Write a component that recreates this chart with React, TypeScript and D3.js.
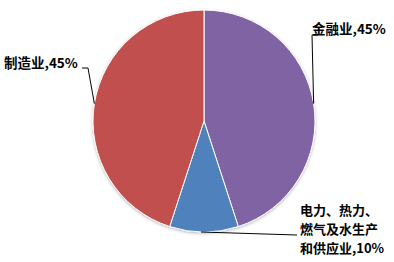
import React from "react";
import * as d3 from "d3";

const categories = ["金融业", "电力、热力、燃气及水生产和供应业", "制造业"];
const shares = [45, 10, 45];
const colors = ["#8064A2", "#4F81BD", "#C0504D"];
const powerLines = ["电力、热力、", "燃气及水生产", "和供应业,"];

const W = 394;
const H = 262;
const cx = 204;
const cy = 121;
const R = 111;

export default function App() {
  const pie = d3.pie<number>().sort(null).value((d) => d)(shares);
  const arc = d3.arc<d3.PieArcDatum<number>>().innerRadius(0).outerRadius(R);
  const fontFamily = "'Noto Sans CJK SC', 'Noto Sans', sans-serif";

  // point on the rim at the middle of a slice
  const mid = (p: d3.PieArcDatum<number>) => {
    const a = (p.startAngle + p.endAngle) / 2;
    return [cx + R * Math.sin(a), cy - R * Math.cos(a)];
  };
  const finP = mid(pie[0]);
  const powP = mid(pie[1]);
  const manP = mid(pie[2]);

  return (
    <svg width={W} height={H} style={{ position: "absolute", left: 0, top: 0 }}>
      <defs>
        <filter id="sh" x="-10%" y="-10%" width="120%" height="120%">
          <feDropShadow dx="0" dy="1" stdDeviation="1.5" floodColor="#000" floodOpacity="0.3" />
        </filter>
      </defs>
      <g transform={`translate(${cx},${cy})`} filter="url(#sh)">
        {pie.map((p, i) => (
          <path key={categories[i]} d={arc(p) || ""} fill={colors[i]} stroke="#fff" strokeWidth={1} />
        ))}
      </g>
      {/* leader lines */}
      <polyline points={`${manP[0]},${manP[1]} 88,68 82,68`} fill="none" stroke="#000" strokeWidth={1} />
      <polyline points={`${finP[0]},${finP[1]} 312,35 318,35`} fill="none" stroke="#000" strokeWidth={1} />
      <polyline points={`${powP[0] - 3},${powP[1]} 297,235`} fill="none" stroke="#000" strokeWidth={1} />
      <g fontFamily={fontFamily} fontWeight="bold" fontSize={13.5} fill="#000">
        <text x={4} y={68}>{categories[2]},{shares[2]}%</text>
        <text x={312} y={34}>{categories[0]},{shares[0]}%</text>
        {powerLines.map((line, i) => (
          <text key={line} x={300} y={215 + i * 19} fontSize={13}>
            {i === powerLines.length - 1 ? `${line}${shares[1]}%` : line}
          </text>
        ))}
      </g>
    </svg>
  );
}
